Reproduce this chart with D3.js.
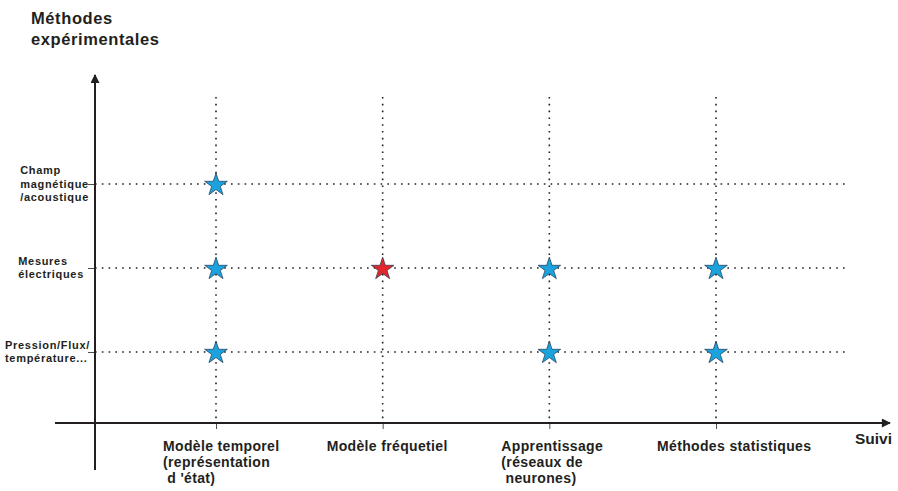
<!DOCTYPE html>
<html><head><meta charset="utf-8">
<script src="https://cdn.jsdelivr.net/npm/d3@7"></script>
<style>body{margin:0;background:#fff}svg{display:block;font-family:"Liberation Sans",Arial,sans-serif}</style>
</head><body><svg id="c" width="898" height="491"></svg>
<script>
// Data
const methods = ["Modèle temporel", "Modèle fréquetiel", "Apprentissage", "Méthodes statistiques"];
const methodLabels = [["Modèle temporel", "(représentation", " d 'état)"], ["Modèle fréquetiel"], ["Apprentissage", "(réseaux de", " neurones)"], ["Méthodes statistiques"]];
const measures = ["Champ magnétique", "Mesures électriques", "Pression/Flux/température"];
const measureLabels = [["Champ", "magnétique", "/acoustique"], ["Mesures", "électriques"], ["Pression/Flux/", "température..."]];
const starMethod = ["Modèle temporel", "Modèle temporel", "Modèle temporel", "Modèle fréquetiel", "Apprentissage", "Apprentissage", "Méthodes statistiques", "Méthodes statistiques"];
const starMeasure = ["Champ magnétique", "Mesures électriques", "Pression/Flux/température", "Mesures électriques", "Mesures électriques", "Pression/Flux/température", "Mesures électriques", "Pression/Flux/température"];
const starKind = ["blue", "blue", "blue", "red", "blue", "blue", "blue", "blue"];
const yTitle = ["Méthodes", "expérimentales"];
const xTitle = "Suivi";

const svg = d3.select("#c");
const ink = "#231f20";
const x = d3.scalePoint().domain(methods).range([216, 716]);
const y = d3.scalePoint().domain(measures).range([184, 352]);
const axY = 423, axX = 95;

// arrow marker
svg.append("defs").append("marker").attr("id", "arr").attr("viewBox", "0 0 10 10")
  .attr("refX", 9).attr("refY", 5).attr("markerWidth", 5).attr("markerHeight", 4.5)
  .attr("orient", "auto").attr("markerUnits", "strokeWidth")
  .append("path").attr("d", "M0,0L10,5L0,10Z").attr("fill", ink);

// grid dotted lines
const g = svg.append("g").attr("stroke", ink).attr("stroke-width", 1.6).attr("stroke-dasharray", "1.6,5.2").attr("stroke-linecap", "butt");
g.selectAll(".v").data(methods).join("line")
  .attr("x1", d => x(d)).attr("x2", d => x(d)).attr("y1", 97).attr("y2", axY);
g.selectAll(".h").data(measures).join("line")
  .attr("x1", axX).attr("x2", 845).attr("y1", d => y(d)).attr("y2", d => y(d));

// axes with ticks
const xa = svg.append("g").attr("transform", `translate(0,${axY})`)
  .call(d3.axisBottom(x).tickSize(6).tickFormat(""));
xa.select(".domain").remove();
xa.selectAll("line").attr("stroke", ink).attr("stroke-width", 0.8);
const ya = svg.append("g").attr("transform", `translate(${axX},0)`)
  .call(d3.axisLeft(y).tickSize(7).tickFormat(""));
ya.select(".domain").remove();
ya.selectAll("line").attr("stroke", ink).attr("stroke-width", 0.8);

svg.append("line").attr("x1", 55).attr("x2", 890).attr("y1", axY).attr("y2", axY)
  .attr("stroke", ink).attr("stroke-width", 2).attr("marker-end", "url(#arr)");
svg.append("line").attr("x1", axX).attr("x2", axX).attr("y1", 470).attr("y2", 75)
  .attr("stroke", ink).attr("stroke-width", 2).attr("marker-end", "url(#arr)");

// x labels
const xOff = [-53, -56, -48, -59];
methods.forEach((m, i) => {
  const t = svg.append("text").attr("font-weight", "bold").attr("font-size", 14).attr("letter-spacing", 0.35).attr("fill", ink);
  methodLabels[i].forEach((ln, j) => {
    t.append("tspan").attr("x", x(m) + xOff[i]).attr("y", 451 + j * 16).attr("xml:space", "preserve").text(ln);
  });
});

// y labels
measures.forEach((m, i) => {
  const t = svg.append("text").attr("font-weight", "bold").attr("font-size", 11).attr("letter-spacing", 0.7).attr("fill", ink);
  const n = measureLabels[i].length;
  const spans = measureLabels[i].map((ln, j) =>
    t.append("tspan").attr("y", y(m) + 3.5 + (j - (n - 1) / 2) * 13.5).text(ln));
  const w = d3.max(spans, s => s.node().getComputedTextLength());
  const right = [89, 84, 90][i];
  spans.forEach(s => s.attr("x", right - w));
});

// titles
const tt = svg.append("text").attr("font-weight", "bold").attr("font-size", 16.5).attr("letter-spacing", 0.6).attr("fill", ink);
yTitle.forEach((ln, j) => tt.append("tspan").attr("x", 31).attr("y", 24 + j * 21).text(ln));
svg.append("text").attr("x", 855).attr("y", 444).attr("font-weight", "bold").attr("font-size", 15.5).attr("fill", ink).text(xTitle);

// stars
const fill = { blue: "#1ba3dd", red: "#e2262b" };
svg.selectAll(".star").data(starMethod.map((m, i) => ({ m, s: starMeasure[i], k: starKind[i] })))
  .join("path")
  .attr("transform", d => `translate(${x(d.m)},${y(d.s) + 1})`)
  .attr("d", d3.symbol(d3.symbolStar).size(160)())
  .attr("fill", d => fill[d.k]).attr("stroke", "#1d3550").attr("stroke-width", 0.7);
</script></body></html>
